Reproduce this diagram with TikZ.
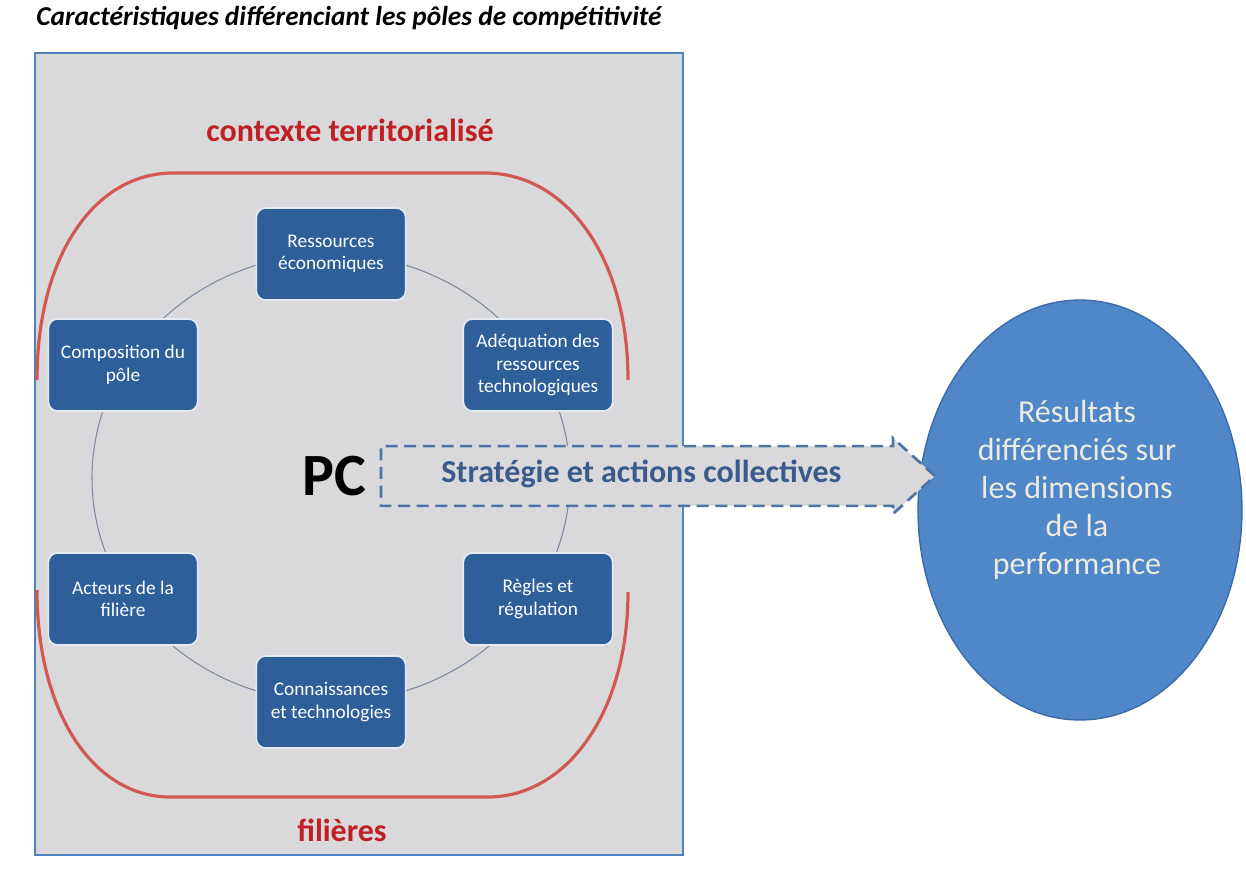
\documentclass[tikz,border=0pt]{standalone}
\usepackage{fontspec}
\setmainfont{Carlito}
\usetikzlibrary{shapes.geometric, shapes.arrows}

\definecolor{panelgray}{RGB}{217,217,219}
\definecolor{panelblue}{RGB}{79,129,189}
\definecolor{boxblue}{RGB}{46,95,155}
\definecolor{ringgray}{RGB}{125,140,165}
\definecolor{bracketred}{RGB}{210,88,86}
\definecolor{labelred}{RGB}{192,32,36}
\definecolor{arrowblue}{RGB}{80,115,165}
\definecolor{arrowtext}{RGB}{58,90,140}
\definecolor{resultblue}{RGB}{79,135,200}
\definecolor{resultedge}{RGB}{58,105,165}
\definecolor{resulttext}{RGB}{235,235,225}

\begin{document}
\begin{tikzpicture}[x=0.75pt,y=0.75pt,yscale=-1,xscale=1,
  pcbox/.style={rectangle, rounded corners=7pt, fill=boxblue, draw=white!85!panelblue, line width=1.2pt, text=white, minimum width=112pt, minimum height=69pt, inner sep=2pt, align=center, font=\fontsize{14.5}{17}\selectfont},
  bracket/.style={draw=bracketred, line width=2.4pt},
  redlabel/.style={text=labelred, font=\fontsize{24}{26}\selectfont\bfseries}]
\useasboundingbox (0,0) rectangle (1246,868);

% Title
\node[font=\fontsize{20.5}{22}\selectfont\bfseries\itshape] (titre) at (349,18) {Caractéristiques différenciant les pôles de compétitivité};

%Shape: Rectangle (panel)
\draw[fill=panelgray, draw=panelblue, line width=1.5pt] (35,53) rectangle (683,855);

% Text Node
\node[redlabel] (contexte) at (350,130) {contexte territorialisé};
% Text Node
\node[redlabel] (filieres) at (342,830) {filières};

%Curve Lines (brackets)
\draw[bracket] (37,380) .. controls (37,255) and (95,173) .. (173,173) -- (485,173) .. controls (565,173) and (628,255) .. (628,380);
\draw[bracket] (37,590) .. controls (37,715) and (95,797) .. (170,797) -- (488,797) .. controls (565,797) and (628,715) .. (628,592);

%Shape: Ellipse (ring)
\coordinate (centre) at (331,478);
\draw[ringgray, line width=0.8pt] (centre) ellipse [x radius=239, y radius=224];

% Boxes
\node[pcbox] (ressources) at (331,254) {Ressources\\économiques};
\node[pcbox] (adequation) at (538,365) {Adéquation des\\ressources\\technologiques};
\node[pcbox] (regles) at (538,599) {Règles et\\régulation};
\node[pcbox] (connaissances) at (331,702) {Connaissances\\et technologies};
\node[pcbox] (acteurs) at (123,599) {Acteurs de la\\filière};
\node[pcbox] (composition) at (123,365) {Composition du\\pôle};

%Shape: Ellipse (results)
\node[ellipse, fill=resultblue, draw=resultedge, line width=1pt, minimum width=243pt, minimum height=315pt, inner sep=0pt] (resultats) at (1080,510) {};
\node[text=resulttext, align=center, font=\fontsize{24}{28.5}\selectfont] (resultatstexte) at (1077,490) {Résultats\\différenciés sur\\les dimensions\\de la\\performance};

%Shape: Arrow
\node[single arrow, draw=arrowblue, fill=panelgray, line width=2pt, dash pattern=on 9pt off 5pt, minimum height=415.5pt, single arrow head extend=6pt, single arrow tip angle=84, text height=12pt, text depth=3pt, inner ysep=13.9pt, inner xsep=0pt, anchor=tip, text=arrowtext, font=\fontsize{24}{26}\selectfont\bfseries] (strategie) at (937,476) {Stratégie et actions collectives};

% Text Node
\node[font=\fontsize{45}{48}\selectfont\bfseries] (pc) at (334,476) {PC};

\end{tikzpicture}
\end{document}
